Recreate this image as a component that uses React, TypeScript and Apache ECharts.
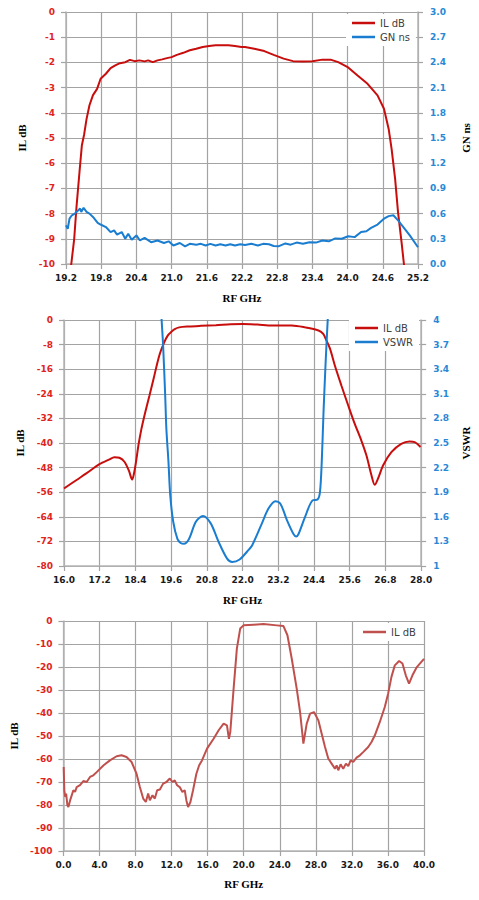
import React, { useEffect, useRef } from 'react';
import * as echarts from 'echarts';

// ---------- Chart 1: 19.2–25.2 GHz, IL dB + GN ns ----------
const topIlFreq = [19.27, 19.29, 19.34, 19.38, 19.43, 19.47, 19.51, 19.55, 19.6, 19.66, 19.73, 19.79, 19.88, 19.96, 20.04, 20.12, 20.21, 20.29, 20.37, 20.45, 20.54, 20.6, 20.68, 20.76, 20.84, 20.92, 21.0, 21.09, 21.2, 21.31, 21.42, 21.53, 21.64, 21.75, 21.86, 21.97, 22.08, 22.19, 22.25, 22.41, 22.58, 22.74, 22.91, 23.07, 23.24, 23.4, 23.57, 23.71, 23.84, 24.01, 24.17, 24.34, 24.51, 24.62, 24.7, 24.75, 24.81, 24.86, 24.92, 24.96, 24.98];
const topIlDb = [-10.4, -10.0, -9.0, -7.7, -6.35, -5.3, -4.85, -4.25, -3.7, -3.3, -3.05, -2.65, -2.45, -2.23, -2.12, -2.03, -1.99, -1.9, -1.95, -1.92, -1.96, -1.92, -1.99, -1.92, -1.88, -1.83, -1.79, -1.7, -1.62, -1.52, -1.46, -1.39, -1.35, -1.32, -1.32, -1.32, -1.35, -1.39, -1.39, -1.46, -1.55, -1.7, -1.85, -1.95, -1.96, -1.95, -1.89, -1.89, -1.99, -2.2, -2.52, -2.85, -3.31, -3.84, -4.64, -5.43, -6.62, -7.95, -9.14, -10.0, -10.4];

const topGnFreq = [19.2, 19.23, 19.26, 19.3, 19.35, 19.41, 19.44, 19.46, 19.5, 19.55, 19.6, 19.66, 19.74, 19.79, 19.88, 19.96, 20.02, 20.07, 20.15, 20.21, 20.26, 20.32, 20.4, 20.46, 20.54, 20.65, 20.76, 20.87, 20.95, 21.03, 21.14, 21.23, 21.31, 21.42, 21.5, 21.58, 21.66, 21.75, 21.83, 21.92, 22.0, 22.08, 22.17, 22.25, 22.36, 22.47, 22.56, 22.66, 22.74, 22.82, 22.94, 23.03, 23.13, 23.24, 23.35, 23.46, 23.57, 23.68, 23.79, 23.9, 24.01, 24.12, 24.23, 24.32, 24.4, 24.51, 24.62, 24.7, 24.78, 24.86, 24.95, 25.06, 25.2];
const topGnNs = [0.46, 0.42, 0.54, 0.58, 0.6, 0.64, 0.66, 0.62, 0.67, 0.62, 0.6, 0.56, 0.49, 0.47, 0.44, 0.38, 0.4, 0.35, 0.38, 0.3, 0.36, 0.29, 0.34, 0.28, 0.31, 0.26, 0.28, 0.25, 0.27, 0.22, 0.25, 0.21, 0.24, 0.23, 0.24, 0.22, 0.24, 0.22, 0.235, 0.22, 0.235, 0.22, 0.235, 0.225, 0.24, 0.22, 0.24, 0.235, 0.215, 0.21, 0.245, 0.23, 0.255, 0.24, 0.26, 0.255, 0.28, 0.27, 0.305, 0.3, 0.33, 0.32, 0.38, 0.39, 0.43, 0.47, 0.54, 0.57, 0.58, 0.52, 0.44, 0.34, 0.2];

// ---------- Chart 2: 16–28 GHz, IL dB + VSWR ----------
const midIlFreq = [16.0, 16.41, 16.75, 17.19, 17.53, 17.69, 17.86, 18.03, 18.18, 18.29, 18.36, 18.43, 18.5, 18.6, 18.73, 18.87, 19.01, 19.2, 19.37, 19.49, 19.59, 19.72, 19.87, 20.2, 20.6, 21.1, 21.6, 22.0, 22.5, 22.99, 23.65, 24.1, 24.55, 24.71, 24.82, 24.94, 25.1, 25.32, 25.55, 25.77, 25.99, 26.16, 26.33, 26.44, 26.55, 26.72, 27.0, 27.33, 27.61, 27.78, 27.98];
const midIlDb = [-54.8, -52.1, -49.9, -46.9, -45.3, -44.6, -44.8, -46.1, -49.0, -51.9, -49.5, -45.5, -40.8, -35.5, -30.0, -24.6, -19.1, -11.6, -7.2, -5.0, -4.0, -3.0, -2.4, -2.1, -1.9, -1.7, -1.4, -1.3, -1.5, -1.8, -1.8, -2.4, -3.4, -4.5, -6.7, -9.4, -14.8, -21.3, -27.8, -33.8, -39.2, -44.0, -50.5, -53.6, -51.6, -47.3, -43.0, -40.3, -39.5, -39.7, -41.3];

const midVswrFreq = [19.26, 19.28, 19.33, 19.4, 19.44, 19.51, 19.57, 19.67, 19.81, 19.92, 20.03, 20.2, 20.43, 20.67, 20.93, 21.2, 21.48, 21.65, 21.9, 22.21, 22.32, 22.65, 22.87, 23.1, 23.27, 23.49, 23.71, 23.8, 23.88, 24.1, 24.35, 24.52, 24.6, 24.66, 24.72, 24.79, 24.86, 24.88];
const midVswr = [4.15, 4.0, 3.69, 3.08, 2.67, 2.27, 1.86, 1.54, 1.33, 1.28, 1.27, 1.33, 1.54, 1.61, 1.52, 1.29, 1.09, 1.05, 1.08, 1.2, 1.25, 1.52, 1.7, 1.79, 1.76, 1.56, 1.39, 1.36, 1.39, 1.6, 1.8, 1.81, 1.9, 2.27, 2.88, 3.48, 4.0, 4.15];

// ---------- Chart 3: 0–40 GHz, IL dB ----------
const botIlFreq = [0.03, 0.1, 0.2, 0.3, 0.44, 0.55, 0.74, 0.92, 1.1, 1.29, 1.47, 1.84, 2.21, 2.58, 2.95, 3.32, 3.69, 4.43, 5.16, 5.9, 6.45, 7.0, 7.56, 8.11, 8.48, 8.85, 9.14, 9.4, 9.59, 9.88, 10.14, 10.4, 10.7, 11.06, 11.43, 11.8, 12.1, 12.35, 12.61, 12.9, 13.2, 13.46, 13.64, 13.83, 14.09, 14.38, 14.75, 15.05, 15.37, 15.93, 16.66, 17.22, 17.77, 18.14, 18.36, 18.51, 18.88, 19.24, 19.61, 19.98, 21.09, 22.19, 23.67, 24.41, 24.85, 25.33, 25.88, 26.25, 26.62, 26.99, 27.36, 27.8, 28.28, 28.65, 29.02, 29.38, 29.75, 30.12, 30.31, 30.49, 30.75, 31.04, 31.34, 31.6, 31.86, 32.15, 32.52, 32.89, 33.25, 33.81, 34.18, 34.55, 35.1, 35.65, 36.02, 36.39, 36.76, 37.24, 37.61, 37.98, 38.34, 38.72, 39.16, 39.71, 40.0];
const botIlDb = [-63.5, -73.6, -76.5, -75.0, -80.1, -80.9, -78.0, -75.8, -73.6, -74.3, -72.2, -71.4, -69.6, -70.0, -67.8, -67.1, -65.7, -62.8, -60.6, -58.8, -58.4, -59.1, -61.3, -66.4, -72.2, -77.2, -78.7, -75.0, -77.9, -75.8, -77.2, -73.6, -73.3, -70.7, -70.0, -68.5, -70.0, -69.3, -71.4, -72.2, -74.3, -73.6, -78.0, -80.9, -78.7, -73.6, -66.4, -62.8, -60.6, -55.5, -51.2, -47.5, -44.6, -45.4, -51.2, -48.3, -29.4, -12.0, -3.3, -1.9, -1.6, -1.3, -1.9, -2.2, -6.2, -16.4, -29.4, -39.5, -53.3, -44.6, -40.3, -39.6, -43.2, -49.0, -54.8, -59.8, -62.0, -64.2, -62.8, -64.9, -62.3, -64.2, -62.0, -63.1, -60.6, -61.3, -59.4, -58.4, -57.0, -54.8, -52.6, -49.7, -43.9, -37.4, -31.6, -24.3, -19.3, -17.4, -18.5, -23.6, -27.2, -23.6, -20.3, -17.8, -16.5];

const MID_X_OFFSET = 16;
const MID_VSWR_OFFSET = 1;

const pairs = (xs: number[], ys: number[], dx = 0, dy = 0) => xs.map((x, i) => [x - dx, ys[i] - dy]);

const RED_LINE = '#c80d0d';
const BLUE_LINE = '#1a7dd0';
const BOT_LINE = '#c0504d';
const RED_LABEL = '#e0241d';
const BLUE_LABEL = '#2a88d6';
const GRID_COLOR = '#a3a3a3';
const AXIS_COLOR = '#b5b5b5';
const TICK_FONT = 'DejaVu Sans';
const NAME_FONT = 'Liberation Serif';

const tickLabel = (color: string, margin: number, formatter: (v: number) => string) => ({
  color, fontFamily: TICK_FONT, fontWeight: 'bold', fontSize: 9, margin, formatter,
});
const nameStyle = { color: '#000', fontFamily: NAME_FONT, fontWeight: 'bold', fontSize: 11 };

const xAxisBase = (gridIndex: number, min: number, max: number, interval: number, fmt: (v: number) => string, nameGap: number) => ({
  type: 'value', gridIndex, min, max, interval,
  name: 'RF GHz', nameLocation: 'middle', nameGap, nameTextStyle: nameStyle,
  axisLine: { show: true, onZero: false, lineStyle: { color: AXIS_COLOR, width: 1.5 } },
  axisTick: { show: true, length: 5, lineStyle: { color: GRID_COLOR, width: 1.2 } },
  splitLine: { show: true, lineStyle: { color: GRID_COLOR, width: 1.2 } },
  axisLabel: tickLabel('#1a1a1a', 9, fmt),
});

const yAxisBase = (gridIndex: number, position: string, min: number, max: number, interval: number, name: string, nameGap: number, color: string, margin: number, fmt: (v: number) => string, split: boolean) => ({
  type: 'value', gridIndex, position, min, max, interval,
  name, nameLocation: 'middle', nameGap, nameRotate: 90, nameTextStyle: nameStyle,
  axisLine: { show: true, onZero: false, lineStyle: { color: AXIS_COLOR, width: 1.5 } },
  axisTick: { show: true, length: 5, lineStyle: { color: GRID_COLOR, width: 1.2 } },
  splitLine: { show: split, lineStyle: { color: GRID_COLOR, width: 1.2 } },
  axisLabel: tickLabel(color, margin, fmt),
});

const legendBase = (left: number, top: number, items: { name: string; color: string }[]) => ({
  show: true, orient: 'vertical', left, top,
  backgroundColor: '#ffffff', padding: [3, 6, 3, 6],
  itemWidth: 23, itemHeight: 2.5, itemGap: 2, icon: 'rect',
  textStyle: { fontFamily: 'DejaVu Sans', fontSize: 10, color: '#404040', lineHeight: 12 },
  selectedMode: false,
  data: items.map((it) => ({ name: it.name, icon: 'rect', itemStyle: { color: it.color, borderWidth: 0 } })),
});

const lineSeries = (name: string, data: number[][], color: string, xAxisIndex: number, yAxisIndex: number, smooth: number | boolean = false) => ({
  type: 'line', name, data, xAxisIndex, yAxisIndex, smooth,
  showSymbol: false, symbol: 'none', clip: true,
  lineStyle: { color, width: 2 }, itemStyle: { color },
  emphasis: { disabled: true },
});

const fmt1 = (v: number) => v.toFixed(1);
const fmtInt = (v: number) => String(Math.round(v));

const option = {
  animation: false,
  backgroundColor: '#ffffff',
  grid: [
    { left: 66, top: 12, width: 363, height: 252 },
    { left: 64, top: 320, width: 359, height: 246 },
    { left: 63, top: 621, width: 361, height: 230 },
  ],
  xAxis: [
    xAxisBase(0, 19.2, 25.2, 0.6, fmt1, 28),
    xAxisBase(1, 0, 12, 1.2, (v: number) => (v + MID_X_OFFSET).toFixed(1), 28),
    xAxisBase(2, 0, 40, 4, fmt1, 27),
  ],
  yAxis: [
    yAxisBase(0, 'left', -10, 0, 1, 'IL dB', 28, RED_LABEL, 11, fmtInt, true),
    yAxisBase(0, 'right', 0, 3, 0.3, 'GN ns', 42, BLUE_LABEL, 12, fmt1, false),
    yAxisBase(1, 'left', -80, 0, 8, 'IL dB', 30, RED_LABEL, 11, fmtInt, true),
    yAxisBase(1, 'right', 0, 3, 0.3, 'VSWR', 31, BLUE_LABEL, 12, (v: number) => String(Math.round((v + MID_VSWR_OFFSET) * 10) / 10), false),
    yAxisBase(2, 'left', -100, 0, 10, 'IL dB', 38, RED_LABEL, 11, fmtInt, true),
  ],
  legend: [
    legendBase(346, 14, [{ name: 'IL dB', color: RED_LINE }, { name: 'GN ns', color: BLUE_LINE }]),
    legendBase(349, 319, [{ name: 'IL dB', color: RED_LINE }, { name: 'VSWR', color: BLUE_LINE }]),
    legendBase(357, 623, [{ name: 'IL dB', color: BOT_LINE }]),
  ],
  series: [
    lineSeries('IL dB', pairs(topIlFreq, topIlDb), RED_LINE, 0, 0),
    lineSeries('GN ns', pairs(topGnFreq, topGnNs), BLUE_LINE, 0, 1),
    lineSeries('IL dB', pairs(midIlFreq, midIlDb, MID_X_OFFSET), RED_LINE, 1, 2, 0.3),
    lineSeries('VSWR', pairs(midVswrFreq, midVswr, MID_X_OFFSET, MID_VSWR_OFFSET), BLUE_LINE, 1, 3, 0.3),
    lineSeries('IL dB', pairs(botIlFreq, botIlDb), BOT_LINE, 2, 4),
  ],
};

export default function App() {
  const ref = useRef<HTMLDivElement>(null);
  useEffect(() => {
    if (!ref.current) return;
    const chart = echarts.init(ref.current, null, { renderer: 'svg' });
    chart.setOption(option as any);
    return () => chart.dispose();
  }, []);
  return (
    <div
      ref={ref}
      style={{ position: 'absolute', left: 0, top: 0, width: 479, height: 900, background: '#fff' }}
    />
  );
}
